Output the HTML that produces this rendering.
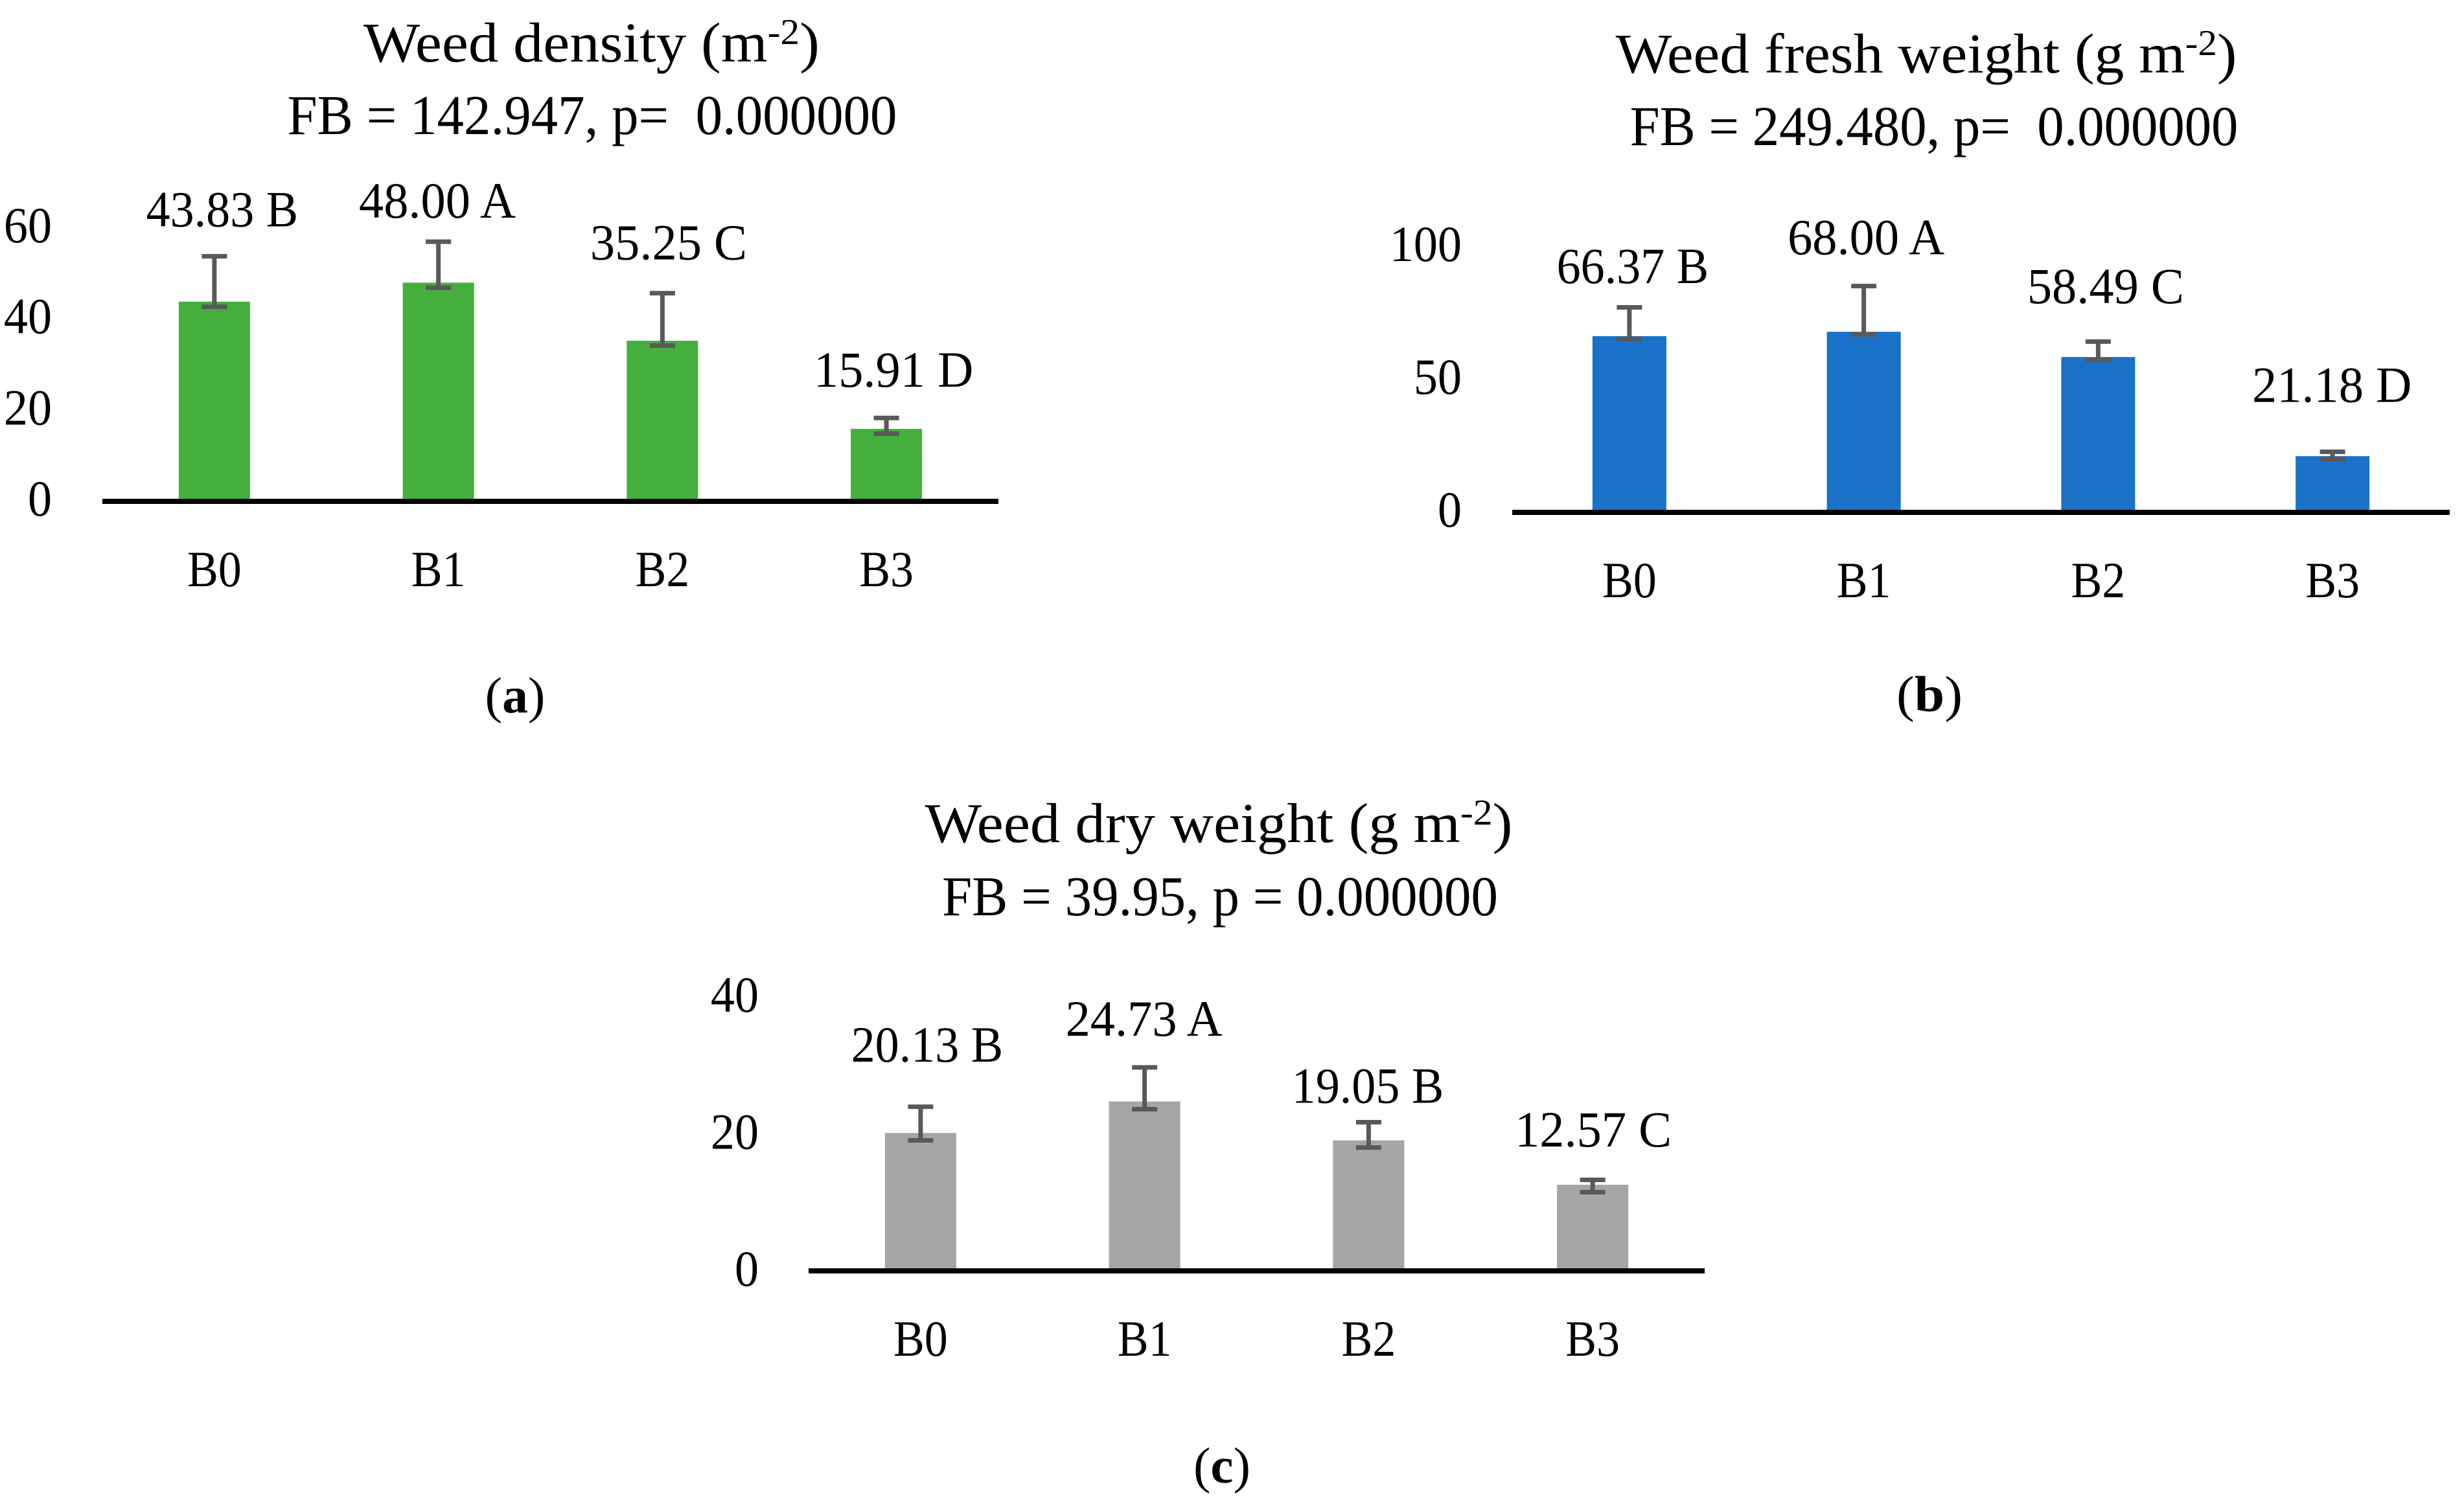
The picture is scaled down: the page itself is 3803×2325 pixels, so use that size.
<!DOCTYPE html>
<html lang="en">
<head>
<meta charset="utf-8">
<title>Weed density, fresh weight and dry weight</title>
<style>
  html, body { margin: 0; padding: 0; background: #ffffff; }
  svg { display: block; }
  text { font-family: "Liberation Serif", serif; fill: #000000; }
  .title { font-size: 87px; }
  .label { font-size: 78px; }
  .caption { font-size: 78px; }
</style>
</head>
<body>
<svg id="figure" xmlns="http://www.w3.org/2000/svg" width="3803" height="2325" viewBox="0 0 3803 2325">
  <rect x="0" y="0" width="3803" height="2325" fill="#ffffff"/>

  <text class="title fit" data-cx="913" data-y="95" data-w="704">Weed density (m<tspan font-size="56" dy="-27">-2</tspan><tspan dy="27">)</tspan></text>
  <text class="title fit" data-cx="914" data-y="207" data-w="941">FB = 142.947, p=&#160; 0.000000</text>
  <text class="caption fit" data-cx="795" data-y="1100" data-w="93">(<tspan font-weight="bold">a</tspan>)</text>

  <text class="title fit" data-cx="2973" data-y="112" data-w="959">Weed fresh weight (g m<tspan font-size="56" dy="-27">-2</tspan><tspan dy="27">)</tspan></text>
  <text class="title fit" data-cx="2985" data-y="224" data-w="939">FB = 249.480, p=&#160; 0.000000</text>
  <text class="caption fit" data-cx="2978" data-y="1098" data-w="102">(<tspan font-weight="bold">b</tspan>)</text>

  <text class="title fit" data-cx="1881" data-y="1300" data-w="907">Weed dry weight (g m<tspan font-size="56" dy="-27">-2</tspan><tspan dy="27">)</tspan></text>
  <text class="title fit" data-cx="1883" data-y="1413" data-w="858">FB = 39.95, p = 0.000000</text>
  <text class="caption fit" data-cx="1886" data-y="2289" data-w="88">(<tspan font-weight="bold">c</tspan>)</text>
</svg>

<script>
// ---- chart data ----
const categories = ['B0', 'B1', 'B2', 'B3'];

const densityValues = [43.83, 48.00, 35.25, 15.91];
const densityLetters = ['B', 'A', 'C', 'D'];
const densityErrHigh = [53.8, 57.0, 45.7, 18.3];
const densityErrLow = [42.7, 46.9, 34.2, 14.86];
const densityTicks = [0, 20, 40, 60];

const freshValues = [66.37, 68.00, 58.49, 21.18];
const freshLetters = ['B', 'A', 'C', 'D'];
const freshErrHigh = [77.2, 85.2, 64.3, 22.8];
const freshErrLow = [65.3, 67.0, 57.5, 20.1];
const freshTicks = [0, 50, 100];

const dryValues = [20.13, 24.73, 19.05, 12.57];
const dryLetters = ['B', 'A', 'B', 'C'];
const dryErrHigh = [23.96, 29.7, 21.7, 13.29];
const dryErrLow = [19.05, 23.6, 18.0, 11.49];
const dryTicks = [0, 20, 40];

const SVG_NS = 'http://www.w3.org/2000/svg';
const VALUE_SCALE = 0.95;
const WIDE_VALUE_SCALE = 0.98;
const CATEGORY_SCALE = 0.92;
const figure = document.getElementById('figure');

function make(tag, attrs) {
  const el = document.createElementNS(SVG_NS, tag);
  for (const key in attrs) el.setAttribute(key, attrs[key]);
  figure.appendChild(el);
  return el;
}

function drawChart(prefix, cfg, values, letters, errHigh, errLow, ticks) {
  const band = (cfg.right - cfg.left) / categories.length;
  const xScale = i => cfg.left + band * (i + 0.5);
  const yScale = v => cfg.base - (v / cfg.max) * cfg.height;

  categories.forEach((cat, i) => {
    const bar = make('rect', {
      x: xScale(i) - cfg.barWidth / 2,
      y: yScale(values[i]),
      width: cfg.barWidth,
      height: yScale(0) - yScale(values[i]),
      fill: cfg.color
    });
    
    
  });

  const axis = make('line', {
    x1: cfg.left, x2: cfg.right, y1: yScale(0), y2: yScale(0),
    stroke: '#000000', 'stroke-width': 8
  });
  
  

  categories.forEach((cat, i) => {
    const cx = xScale(i);
    const hi = yScale(errHigh[i]);
    const lo = yScale(errLow[i]);
    const stem = make('line', { x1: cx, x2: cx, y1: hi, y2: lo, stroke: '#595959', 'stroke-width': 7 });
    
    
    const capTop = make('line', { x1: cx - 19.5, x2: cx + 19.5, y1: hi, y2: hi, stroke: '#595959', 'stroke-width': 7 });
    
    
    const capLow = make('line', { x1: cx - 19.5, x2: cx + 19.5, y1: lo, y2: lo, stroke: '#595959', 'stroke-width': 7 });
    
    

    const valueScale = letters[i] === 'B' ? VALUE_SCALE : WIDE_VALUE_SCALE;
    const value = make('text', {
      class: 'label', 'text-anchor': 'middle',
      transform: 'translate(' + (cx + cfg.labelDx[i]) + ',' + (hi - cfg.labelGap[i]) + ') scale(' + valueScale + ',1)'
    });
    value.textContent = values[i].toFixed(2) + ' ' + letters[i];
    
    

    const catLabel = make('text', {
      class: 'label', 'text-anchor': 'middle',
      transform: 'translate(' + cx + ',' + (yScale(0) + cfg.categoryDrop) + ') scale(' + CATEGORY_SCALE + ',1)'
    });
    catLabel.textContent = cat;
    
    
  });

  ticks.forEach(t => {
    const tick = make('text', {
      class: 'label', 'text-anchor': 'end',
      transform: 'translate(' + cfg.tickRight + ',' + (yScale(t) + cfg.tickDrop) + ') scale(' + VALUE_SCALE + ',1)'
    });
    tick.textContent = String(t);
    
    
  });
}

drawChart('density', {
  left: 158, right: 1541, base: 774, max: 60, height: 422, barWidth: 110,
  color: '#44AF3D', tickRight: 80, tickDrop: 22, categoryDrop: 131,
  labelDx: [12, -1.6, 9.6, 11], labelGap: [46, 37, 52, 48.5]
}, densityValues, densityLetters, densityErrHigh, densityErrLow, densityTicks);

drawChart('fresh', {
  left: 2334, right: 3781, base: 791, max: 100, height: 410, barWidth: 114,
  color: '#1972C8', tickRight: 2256, tickDrop: 22, categoryDrop: 131,
  labelDx: [5, 3.5, 11.5, -1], labelGap: [37.5, 49, 59.5, 77]
}, freshValues, freshLetters, freshErrHigh, freshErrLow, freshTicks);

drawChart('dry', {
  left: 1248, right: 2631, base: 1962, max: 40, height: 423, barWidth: 110,
  color: '#A6A6A6', tickRight: 1171, tickDrop: 23, categoryDrop: 131,
  labelDx: [10, -1, -1.4, 1], labelGap: [69.5, 49, 30, 51.5]
}, dryValues, dryLetters, dryErrHigh, dryErrLow, dryTicks);

// Fit static titles to their measured widths.
document.querySelectorAll('text.fit').forEach(t => {
  t.setAttribute('text-anchor', 'middle');
  const width = t.getBBox().width || Number(t.dataset.w);
  const sx = Number(t.dataset.w) / width;
  t.setAttribute('transform', 'translate(' + t.dataset.cx + ',' + t.dataset.y + ') scale(' + sx + ',1)');
});
</script>
</body>
</html>
